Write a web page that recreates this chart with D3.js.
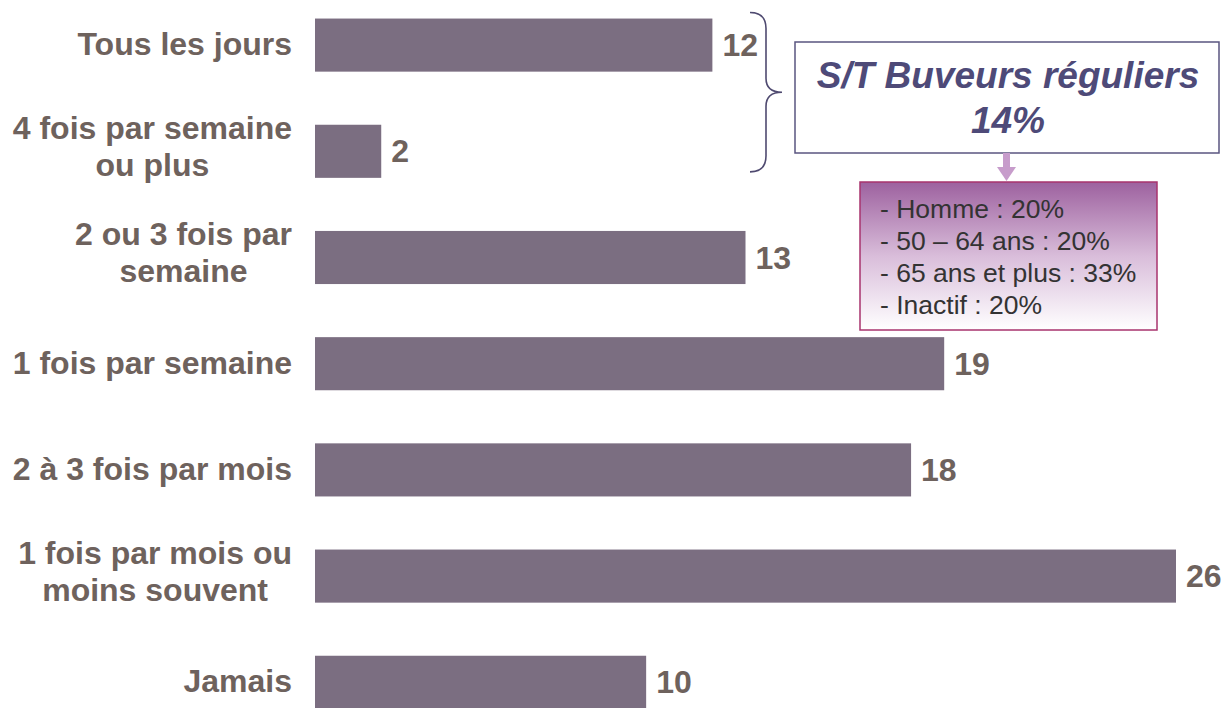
<!DOCTYPE html>
<html><head><meta charset="utf-8">
<script src="https://cdn.jsdelivr.net/npm/d3@7"></script>
<style>html,body{margin:0;padding:0;background:#fff;}</style>
</head><body><svg id="c" width="1225" height="708"></svg>
<script>
const categories = [["Tous les jours"],["4 fois par semaine","ou plus"],["2 ou 3 fois par","semaine"],["1 fois par semaine"],["2 à 3 fois par mois"],["1 fois par mois ou","moins souvent"],["Jamais"]];
const values = [12,2,13,19,18,26,10];
const boxTitle = ["S/T Buveurs réguliers","14%"];
const boxLines = ["- Homme : 20%","- 50 – 64 ans : 20%","- 65 ans et plus : 33%","- Inactif : 20%"];

const svg = d3.select("#c");
const font = "'Liberation Sans', Arial, Helvetica, sans-serif";
const keys = categories.map((d,i)=>i);
const x = d3.scaleLinear().domain([0,26]).range([315,1176]);
const y = d3.scaleBand().domain(keys).range([-8,735.4]).paddingInner(0.5).paddingOuter(0.25);

svg.selectAll("rect.bar").data(values).join("rect").attr("class","bar")
  .attr("x",x(0)).attr("y",(d,i)=>y(i)).attr("width",d=>x(d)-x(0)).attr("height",y.bandwidth())
  .attr("fill","#7b6e81");

svg.selectAll("text.val").data(values).join("text").attr("class","val")
  .attr("x",d=>x(d)+10).attr("y",(d,i)=>y(i)+y.bandwidth()/2+11)
  .attr("font-family",font).attr("font-weight","bold").attr("font-size",32).attr("fill","#6e625d")
  .text(d=>d);

const rightEdge = 292;
svg.selectAll("text.cat").data(categories).join("text").attr("class","cat")
  .attr("font-family",font).attr("font-weight","bold").attr("font-size",32).attr("fill","#6e625d")
  .each(function(d,i){
    const t=d3.select(this);
    const cy=y(i)+y.bandwidth()/2;
    if(d.length===1){
      t.attr("text-anchor","end").attr("x",rightEdge).attr("y",cy+10).text(d[0]);
    } else {
      const lh=37;
      const spans=d.map((s,j)=>t.append("tspan").attr("y",cy-lh/2+6+j*lh).text(s));
      const w=d3.max(spans,s=>s.node().getComputedTextLength());
      t.attr("text-anchor","middle");
      spans.forEach(s=>s.attr("x",rightEdge-w/2));
    }
  });

// brace
const bx=750, by0=y(0)-6, by1=y(1)+y.bandwidth()-6, bm=(by0+by1)/2, bw=16;
svg.append("path").attr("fill","none").attr("stroke","#4f4a70").attr("stroke-width",1.6)
  .attr("d",`M${bx},${by0} Q${bx+bw},${by0} ${bx+bw},${by0+16} L${bx+bw},${bm-14} Q${bx+bw},${bm} ${bx+bw*2},${bm} Q${bx+bw},${bm} ${bx+bw},${bm+14} L${bx+bw},${by1-16} Q${bx+bw},${by1} ${bx},${by1}`);

// box 1
svg.append("rect").attr("x",795).attr("y",42).attr("width",424).attr("height",111)
  .attr("fill","#fff").attr("stroke","#5a5580").attr("stroke-width",1.5);
svg.append("text").attr("font-family",font).attr("font-weight","bold").attr("font-style","italic")
  .attr("font-size",37).attr("fill","#4e4a78").attr("text-anchor","middle")
  .selectAll("tspan").data(boxTitle).join("tspan").attr("x",1008).attr("y",(d,i)=>88+i*45).text(d=>d);

// arrow
svg.append("rect").attr("x",1003).attr("y",153).attr("width",7).attr("height",15).attr("fill","#c79ccb");
svg.append("path").attr("d","M997,167 L1016,167 L1006.5,181 Z").attr("fill","#c79ccb");

// box 2
const defs=svg.append("defs");
const g=defs.append("linearGradient").attr("id","gr").attr("x1",0).attr("y1",0).attr("x2",0).attr("y2",1);
g.append("stop").attr("offset","0%").attr("stop-color","#9d619f");
g.append("stop").attr("offset","50%").attr("stop-color","#d9bdda");
g.append("stop").attr("offset","100%").attr("stop-color","#ffffff");
svg.append("rect").attr("x",860).attr("y",182).attr("width",297).attr("height",148)
  .attr("fill","url(#gr)").attr("stroke","#a8336e").attr("stroke-width",1.5);
svg.append("text").attr("font-family",font).attr("font-size",26.5).attr("fill","#333")
  .selectAll("tspan").data(boxLines).join("tspan").attr("x",880).attr("y",(d,i)=>218+i*32).text(d=>d);
</script></body></html>
